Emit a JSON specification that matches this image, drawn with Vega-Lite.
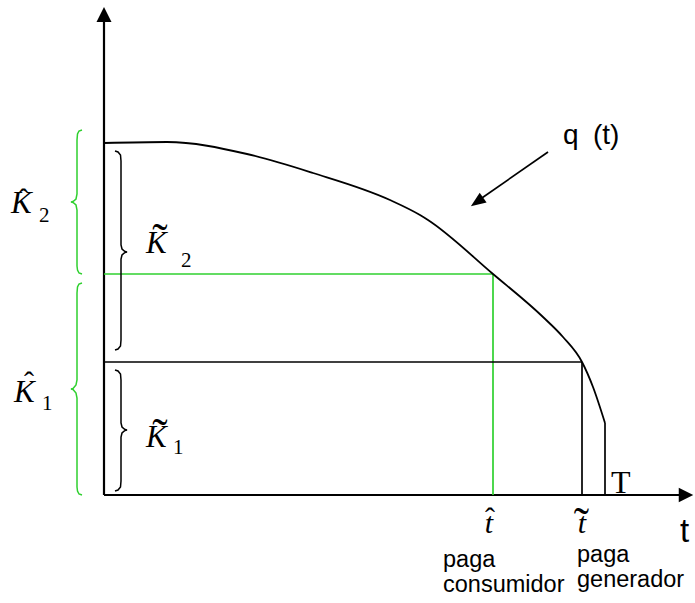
{
  "$schema": "https://vega.github.io/schema/vega-lite/v6.json",
  "width": 695,
  "height": 603,
  "padding": 0,
  "autosize": {"type": "fit", "contains": "padding"},
  "background": "white",
  "config": {"view": {"stroke": null}},
  "datasets": {
    "ejes": [
      {"t": 0, "q": 0, "t2": 0, "q2": 474, "grupo": "generador"},
      {"t": 0, "q": 0, "t2": 577, "q2": 0, "grupo": "generador"}
    ],
    "segmentos": [
      {"t": 0, "q": 221, "t2": 389, "q2": 221, "grupo": "consumidor"},
      {"t": 389, "q": 0, "t2": 389, "q2": 221, "grupo": "consumidor"},
      {"t": 0, "q": 133, "t2": 478, "q2": 133, "grupo": "generador"},
      {"t": 478, "q": 0, "t2": 478, "q2": 133, "grupo": "generador"},
      {"t": 501, "q": 0, "t2": 501, "q2": 72, "grupo": "generador"},
      {"t": 444, "q": 343, "t2": 375, "q2": 295, "grupo": "generador"}
    ],
    "curva": [
      {"t": 0, "q": 352},
      {"t": 63, "q": 353},
      {"t": 143, "q": 341},
      {"t": 209, "q": 322},
      {"t": 286, "q": 295},
      {"t": 316, "q": 280},
      {"t": 324, "q": 275},
      {"t": 389, "q": 221},
      {"t": 439, "q": 178},
      {"t": 459, "q": 158},
      {"t": 478, "q": 133},
      {"t": 489, "q": 108},
      {"t": 501, "q": 72}
    ],
    "llaves": [
      {"llave": "K2c", "i": 0, "t": -22, "q": 365, "grupo": "consumidor"},
      {"llave": "K2c", "i": 1, "t": -25, "q": 364, "grupo": "consumidor"},
      {"llave": "K2c", "i": 2, "t": -26.5, "q": 361, "grupo": "consumidor"},
      {"llave": "K2c", "i": 3, "t": -27, "q": 355, "grupo": "consumidor"},
      {"llave": "K2c", "i": 4, "t": -27, "q": 301, "grupo": "consumidor"},
      {"llave": "K2c", "i": 5, "t": -28, "q": 296, "grupo": "consumidor"},
      {"llave": "K2c", "i": 6, "t": -31, "q": 293.5, "grupo": "consumidor"},
      {"llave": "K2c", "i": 7, "t": -33, "q": 293, "grupo": "consumidor"},
      {"llave": "K2c", "i": 8, "t": -31, "q": 292.5, "grupo": "consumidor"},
      {"llave": "K2c", "i": 9, "t": -28, "q": 290, "grupo": "consumidor"},
      {"llave": "K2c", "i": 10, "t": -27, "q": 285, "grupo": "consumidor"},
      {"llave": "K2c", "i": 11, "t": -27, "q": 229, "grupo": "consumidor"},
      {"llave": "K2c", "i": 12, "t": -26.5, "q": 225, "grupo": "consumidor"},
      {"llave": "K2c", "i": 13, "t": -25, "q": 222, "grupo": "consumidor"},
      {"llave": "K2c", "i": 14, "t": -22, "q": 221, "grupo": "consumidor"},
      {"llave": "K1c", "i": 0, "t": -22, "q": 212, "grupo": "consumidor"},
      {"llave": "K1c", "i": 1, "t": -25, "q": 211, "grupo": "consumidor"},
      {"llave": "K1c", "i": 2, "t": -26.5, "q": 208, "grupo": "consumidor"},
      {"llave": "K1c", "i": 3, "t": -27, "q": 202, "grupo": "consumidor"},
      {"llave": "K1c", "i": 4, "t": -27, "q": 115, "grupo": "consumidor"},
      {"llave": "K1c", "i": 5, "t": -28, "q": 110, "grupo": "consumidor"},
      {"llave": "K1c", "i": 6, "t": -31, "q": 106.5, "grupo": "consumidor"},
      {"llave": "K1c", "i": 7, "t": -33, "q": 106, "grupo": "consumidor"},
      {"llave": "K1c", "i": 8, "t": -31, "q": 105.5, "grupo": "consumidor"},
      {"llave": "K1c", "i": 9, "t": -28, "q": 102, "grupo": "consumidor"},
      {"llave": "K1c", "i": 10, "t": -27, "q": 97, "grupo": "consumidor"},
      {"llave": "K1c", "i": 11, "t": -27, "q": 8, "grupo": "consumidor"},
      {"llave": "K1c", "i": 12, "t": -26.5, "q": 4, "grupo": "consumidor"},
      {"llave": "K1c", "i": 13, "t": -25, "q": 1, "grupo": "consumidor"},
      {"llave": "K1c", "i": 14, "t": -22, "q": 0, "grupo": "consumidor"},
      {"llave": "K2g", "i": 0, "t": 11, "q": 344, "grupo": "generador"},
      {"llave": "K2g", "i": 1, "t": 14, "q": 343, "grupo": "generador"},
      {"llave": "K2g", "i": 2, "t": 16.5, "q": 340, "grupo": "generador"},
      {"llave": "K2g", "i": 3, "t": 17, "q": 334, "grupo": "generador"},
      {"llave": "K2g", "i": 4, "t": 17, "q": 250, "grupo": "generador"},
      {"llave": "K2g", "i": 5, "t": 18, "q": 246, "grupo": "generador"},
      {"llave": "K2g", "i": 6, "t": 21, "q": 243.5, "grupo": "generador"},
      {"llave": "K2g", "i": 7, "t": 23, "q": 243, "grupo": "generador"},
      {"llave": "K2g", "i": 8, "t": 21, "q": 242.5, "grupo": "generador"},
      {"llave": "K2g", "i": 9, "t": 18, "q": 240, "grupo": "generador"},
      {"llave": "K2g", "i": 10, "t": 17, "q": 236, "grupo": "generador"},
      {"llave": "K2g", "i": 11, "t": 17, "q": 155, "grupo": "generador"},
      {"llave": "K2g", "i": 12, "t": 16.5, "q": 149, "grupo": "generador"},
      {"llave": "K2g", "i": 13, "t": 14, "q": 146, "grupo": "generador"},
      {"llave": "K2g", "i": 14, "t": 11, "q": 145, "grupo": "generador"},
      {"llave": "K1g", "i": 0, "t": 11, "q": 125, "grupo": "generador"},
      {"llave": "K1g", "i": 1, "t": 14, "q": 124, "grupo": "generador"},
      {"llave": "K1g", "i": 2, "t": 16.5, "q": 121, "grupo": "generador"},
      {"llave": "K1g", "i": 3, "t": 17, "q": 115, "grupo": "generador"},
      {"llave": "K1g", "i": 4, "t": 17, "q": 72, "grupo": "generador"},
      {"llave": "K1g", "i": 5, "t": 18, "q": 68, "grupo": "generador"},
      {"llave": "K1g", "i": 6, "t": 21, "q": 65.5, "grupo": "generador"},
      {"llave": "K1g", "i": 7, "t": 23, "q": 65, "grupo": "generador"},
      {"llave": "K1g", "i": 8, "t": 21, "q": 64.5, "grupo": "generador"},
      {"llave": "K1g", "i": 9, "t": 18, "q": 62, "grupo": "generador"},
      {"llave": "K1g", "i": 10, "t": 17, "q": 58, "grupo": "generador"},
      {"llave": "K1g", "i": 11, "t": 17, "q": 14, "grupo": "generador"},
      {"llave": "K1g", "i": 12, "t": 16.5, "q": 8, "grupo": "generador"},
      {"llave": "K1g", "i": 13, "t": 14, "q": 5, "grupo": "generador"},
      {"llave": "K1g", "i": 14, "t": 11, "q": 4, "grupo": "generador"}
    ],
    "puntaY": [{"t": 0, "q": 480.5}],
    "puntaX": [{"t": 582, "q": 0}],
    "puntaQ": [{"t": 373, "q": 293}],
    "letrasK": [
      {"t": -93, "q": 282, "txt": "K"},
      {"t": -90, "q": 93, "txt": "K"},
      {"t": 42, "q": 242, "txt": "K"},
      {"t": 42, "q": 48, "txt": "K"}
    ],
    "letrasT": [
      {"t": 385, "q": -38, "txt": "t"},
      {"t": 478, "q": -38, "txt": "t"}
    ],
    "subindices": [
      {"t": -65, "q": 273, "txt": "2"},
      {"t": -62, "q": 85, "txt": "1"},
      {"t": 77, "q": 228, "txt": "2"},
      {"t": 69, "q": 41, "txt": "1"}
    ],
    "sombreros": [
      {"t": -80.5, "q": 286, "txt": "ˆ"},
      {"t": -75, "q": 103, "txt": "ˆ"},
      {"t": 386, "q": -33, "txt": "ˆ"}
    ],
    "tildes": [
      {"t": 56, "q": 240, "txt": "˜"},
      {"t": 56, "q": 45, "txt": "˜"},
      {"t": 477.5, "q": -44, "txt": "˜"}
    ],
    "letraT": [{"t": 507, "q": 2, "txt": "T"}],
    "rotuloQ": [
      {"t": 459, "q": 351, "txt": "q"},
      {"t": 489, "q": 351, "txt": "(t)"}
    ],
    "ejeT": [{"t": 576, "q": -47, "txt": "t"}],
    "pagos": [
      {"t": 339, "q": -72, "txt": "paga"},
      {"t": 339, "q": -97, "txt": "consumidor"},
      {"t": 473, "q": -67, "txt": "paga"},
      {"t": 473, "q": -92, "txt": "generador"}
    ]
  },
  "encoding": {
    "x": {"field": "t", "type": "quantitative", "scale": {"domain": [-104, 591], "nice": false, "zero": false}, "axis": null},
    "y": {"field": "q", "type": "quantitative", "scale": {"domain": [-108, 495], "nice": false, "zero": false}, "axis": null}
  },
  "layer": [
    {
      "data": {"name": "ejes"},
      "mark": {"type": "rule", "strokeWidth": 2.2, "color": "#000000"},
      "encoding": {"x2": {"field": "t2"}, "y2": {"field": "q2"}}
    },
    {
      "data": {"name": "segmentos"},
      "mark": {"type": "rule", "strokeWidth": 1.7},
      "encoding": {
        "x2": {"field": "t2"}, "y2": {"field": "q2"},
        "color": {"field": "grupo", "type": "nominal", "scale": {"domain": ["consumidor", "generador"], "range": ["#2FD02F", "#000000"]}, "legend": null}
      }
    },
    {
      "data": {"name": "curva"},
      "mark": {"type": "line", "interpolate": "monotone", "strokeWidth": 1.8, "color": "#000000"},
      "encoding": {}
    },
    {
      "data": {"name": "llaves"},
      "mark": {"type": "line", "strokeWidth": 1.5},
      "encoding": {
        "detail": {"field": "llave"},
        "order": {"field": "i", "type": "quantitative"},
        "color": {"field": "grupo", "type": "nominal", "scale": {"domain": ["consumidor", "generador"], "range": ["#2FD02F", "#000000"]}, "legend": null}
      }
    },
    {
      "data": {"name": "puntaY"},
      "mark": {"type": "point", "shape": "M0,-1L-1,1L1,1Z", "size": 225, "filled": true, "opacity": 1, "color": "#000000", "strokeWidth": 0}
    },
    {
      "data": {"name": "puntaX"},
      "mark": {"type": "point", "shape": "M0,-1L-1,1L1,1Z", "size": 210, "angle": 90, "filled": true, "opacity": 1, "color": "#000000", "strokeWidth": 0}
    },
    {
      "data": {"name": "puntaQ"},
      "mark": {"type": "point", "shape": "M0,-1L-0.8,1L0.8,1Z", "size": 225, "angle": 235, "filled": true, "opacity": 1, "color": "#000000", "strokeWidth": 0}
    },
    {
      "data": {"name": "letrasK"},
      "mark": {"type": "text", "font": "Liberation Serif", "fontStyle": "italic", "fontSize": 31, "align": "left", "baseline": "alphabetic", "color": "#000000"},
      "encoding": {"text": {"field": "txt"}}
    },
    {
      "data": {"name": "letrasT"},
      "mark": {"type": "text", "font": "Liberation Serif", "fontStyle": "italic", "fontSize": 30, "align": "center", "baseline": "alphabetic", "color": "#000000"},
      "encoding": {"text": {"field": "txt"}}
    },
    {
      "data": {"name": "subindices"},
      "mark": {"type": "text", "font": "Liberation Serif", "fontSize": 21, "align": "left", "baseline": "alphabetic", "color": "#000000"},
      "encoding": {"text": {"field": "txt"}}
    },
    {
      "data": {"name": "sombreros"},
      "mark": {"type": "text", "font": "Liberation Serif", "fontSize": 30, "align": "center", "baseline": "alphabetic", "color": "#000000"},
      "encoding": {"text": {"field": "txt"}}
    },
    {
      "data": {"name": "tildes"},
      "mark": {"type": "text", "font": "Liberation Serif", "fontSize": 46, "align": "center", "baseline": "alphabetic", "color": "#000000"},
      "encoding": {"text": {"field": "txt"}}
    },
    {
      "data": {"name": "letraT"},
      "mark": {"type": "text", "font": "Liberation Serif", "fontSize": 32, "align": "left", "baseline": "alphabetic", "color": "#000000"},
      "encoding": {"text": {"field": "txt"}}
    },
    {
      "data": {"name": "rotuloQ"},
      "mark": {"type": "text", "font": "Liberation Sans", "fontSize": 28, "align": "left", "baseline": "alphabetic", "color": "#000000"},
      "encoding": {"text": {"field": "txt"}}
    },
    {
      "data": {"name": "ejeT"},
      "mark": {"type": "text", "font": "Liberation Sans", "fontSize": 33, "align": "left", "baseline": "alphabetic", "color": "#000000"},
      "encoding": {"text": {"field": "txt"}}
    },
    {
      "data": {"name": "pagos"},
      "mark": {"type": "text", "font": "Liberation Sans", "fontSize": 23.5, "align": "left", "baseline": "alphabetic", "color": "#000000"},
      "encoding": {"text": {"field": "txt"}}
    }
  ]
}
